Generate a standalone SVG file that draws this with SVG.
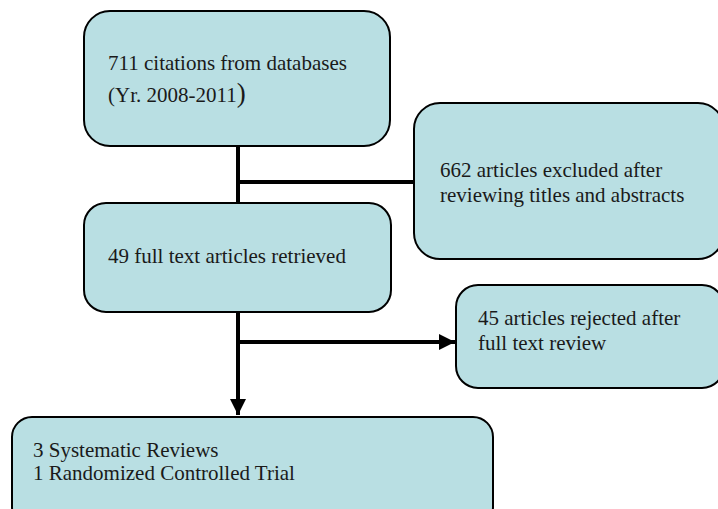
<svg xmlns="http://www.w3.org/2000/svg" width="718" height="509" viewBox="0 0 718 509">
<defs>
<style>
.box{fill:#b9dfe3;stroke:#000;stroke-width:2}
text{font-family:"Liberation Serif","Times New Roman",serif;font-size:21px;fill:#1a1a1a}
.ln{stroke:#000;stroke-width:4;fill:none}
</style>
<marker id="ah" viewBox="0 0 10 10" refX="10" refY="5" markerWidth="4.5" markerHeight="4" orient="auto" markerUnits="strokeWidth">
<path d="M0,0 L10,5 L0,10 z" fill="#000"/>
</marker>
</defs>
<g id="connectors">
<line class="ln" x1="238" y1="146" x2="238" y2="203"/>
<line class="ln" x1="238" y1="182" x2="415" y2="182"/>
<line class="ln" x1="238" y1="312" x2="238" y2="415" marker-end="url(#ah)"/>
<line class="ln" x1="238" y1="342" x2="455" y2="342" marker-end="url(#ah)"/>
</g>
<g id="n1">
<rect class="box" x="84" y="11" width="306" height="135" rx="26"/>
<text x="108" y="70">711 citations from databases</text>
<text x="108" y="102">(Yr. 2008-2011<tspan font-size="27">)</tspan></text>
</g>
<g id="n2">
<rect class="box" x="414" y="103" width="310" height="156" rx="26"/>
<text x="440" y="177">662 articles excluded after</text>
<text x="440" y="202">reviewing titles and abstracts</text>
</g>
<g id="n3">
<rect class="box" x="84" y="203" width="307" height="109" rx="22"/>
<text x="108" y="263">49 full text articles retrieved</text>
</g>
<g id="n4">
<rect class="box" x="456" y="285" width="268" height="103" rx="22"/>
<text x="478" y="325">45 articles rejected after</text>
<text x="478" y="350">full text review</text>
</g>
<g id="n5">
<rect class="box" x="12" y="417" width="481" height="110" rx="20"/>
<text x="33" y="457">3 Systematic Reviews</text>
<text x="33" y="480">1 Randomized Controlled Trial</text>
</g>
</svg>
